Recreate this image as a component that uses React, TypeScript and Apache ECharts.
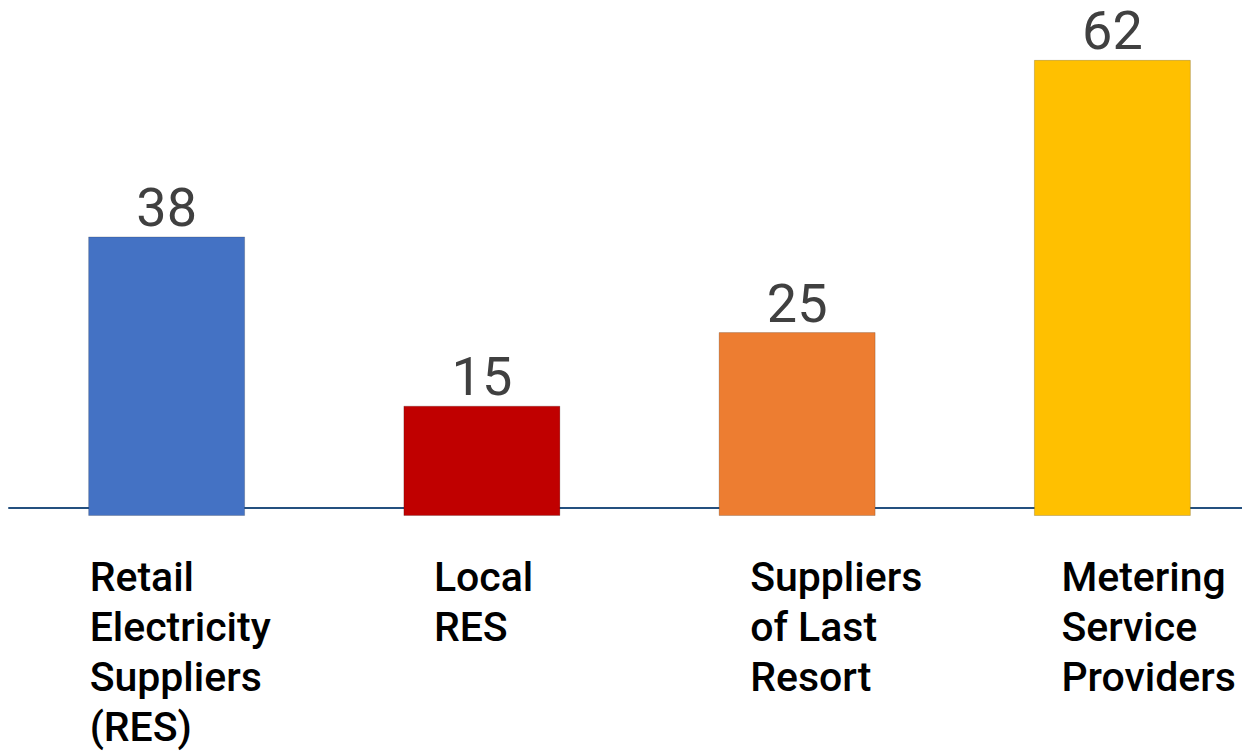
import React, { useEffect, useRef } from "react";
import * as echarts from "echarts";

const categories = [
  "Retail\nElectricity\nSuppliers\n(RES)",
  "Local\nRES",
  "Suppliers\nof Last\nResort",
  "Metering\nService\nProviders",
];
const values = [38, 15, 25, 62];
const barColors = ["#4472C4", "#C00000", "#ED7D31", "#FFC000"];
const labelShifts = [-77, -48, -47, -51];

export default function App() {
  const ref = useRef<HTMLDivElement>(null);
  useEffect(() => {
    if (!ref.current) return;
    const chart = echarts.init(ref.current, null, { renderer: "svg" });
    chart.setOption({
      animation: false,
      grid: {
        left: 9,
        width: 1261,
        top: 1,
        bottom: 238,
        containLabel: false,
        outerBoundsMode: "none",
      },
      xAxis: {
        type: "category",
        data: categories.map((c, i) => ({
          value: c,
          textStyle: {
            align: "left",
            verticalAlign: "top",
            padding: [0, 0, 0, labelShifts[i]],
          },
        })),
        offset: -8,
        axisLine: { show: true, lineStyle: { color: "#24507F", width: 2 } },
        axisTick: { show: false },
        axisLabel: {
          interval: 0,
          align: "left",
          verticalAlign: "top",
          margin: 44,
          fontFamily: "Roboto",
          fontWeight: 500,
          fontSize: 41,
          lineHeight: 50,
          color: "#000000",
        },
      },
      yAxis: {
        type: "value",
        min: 0,
        max: 70,
        show: false,
        splitLine: { show: false },
      },
      series: [
        {
          type: "bar",
          barWidth: 157,
          data: values.map((v, i) => ({
            value: v,
            itemStyle: { color: barColors[i] },
          })),
          itemStyle: { borderColor: "rgba(0,0,0,0.18)", borderWidth: 1 },
          label: {
            show: true,
            position: "top",
            distance: 3,
            fontFamily: "Roboto",
            fontSize: 54,
            lineHeight: 52,
            color: "#404040",
          },
        },
      ],
    });
    return () => chart.dispose();
  }, []);
  return (
    <div
      ref={ref}
      style={{ position: "absolute", left: 0, top: 0, width: 1242, height: 754 }}
    />
  );
}
